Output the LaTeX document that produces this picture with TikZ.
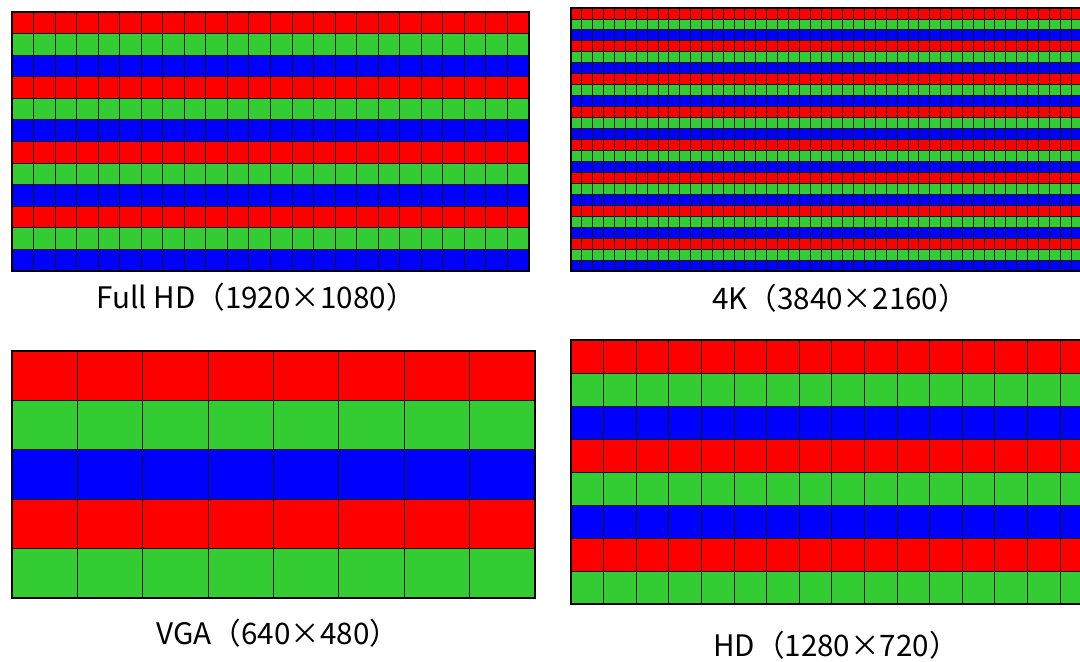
\documentclass[tikz,border=0pt]{standalone}
\usepackage{fontspec}
\setmainfont{Noto Sans CJK JP}

\definecolor{pxred}{RGB}{255,0,0}
\definecolor{pxgreen}{RGB}{51,204,51}
\definecolor{pxblue}{RGB}{0,0,255}

\tikzset{
  cellline/.style={draw=black!90,line width=0.45pt},
  frame/.style={draw=black,line width=1.1pt},
  reslabel/.style={font=\fontsize{14.8}{17}\selectfont,inner sep=0pt}
}

% #1 x0, #2 y0, #3 cell width, #4 cell height, #5 columns, #6 rows
\newcommand{\pixgrid}[6]{%
  \pgfmathtruncatemacro\lastrow{#6-1}
  \foreach \r in {0,...,\lastrow}{
    \pgfmathtruncatemacro\k{mod(\r,3)}
    \ifcase\k\relax\def\rowcol{pxred}\or\def\rowcol{pxgreen}\else\def\rowcol{pxblue}\fi
    \fill[\rowcol] (#1,{#2+\r*#4}) rectangle ({#1+#5*#3},{#2+(\r+1)*#4});
  }
  \foreach \c in {1,...,#5} \draw[cellline] ({#1+\c*#3},#2) -- ({#1+\c*#3},{#2+#6*#4});
  \foreach \r in {1,...,\lastrow} \draw[cellline] (#1,{#2+\r*#4}) -- ({#1+#5*#3},{#2+\r*#4});
  \draw[frame] (#1,#2) rectangle ({#1+#5*#3},{#2+#6*#4});
}

\begin{document}
\begin{tikzpicture}[x=0.5pt,y=-0.5pt]
\useasboundingbox (0,0) rectangle (1080,662);

\begin{scope}
\clip (0,0) rectangle (1080,662);
% Full HD
\pixgrid{12}{12}{21.54}{21.58}{24}{12}
% 4K
\pixgrid{571}{8}{10.87}{10.96}{48}{24}
% VGA
\pixgrid{12}{351}{65.375}{49.4}{8}{5}
% HD
\pixgrid{571}{340}{32.6}{33}{16}{8}
\end{scope}

\node[reslabel] at (256,297) (fhdlabel) {Full HD（1920×1080）};
\node[reslabel] at (840,298) (uhdlabel) {4K（3840×2160）};
\node[reslabel] at (278,633) (vgalabel) {VGA（640×480）};
\node[reslabel] at (836,645) (hdlabel) {HD（1280×720）};

\end{tikzpicture}
\end{document}
